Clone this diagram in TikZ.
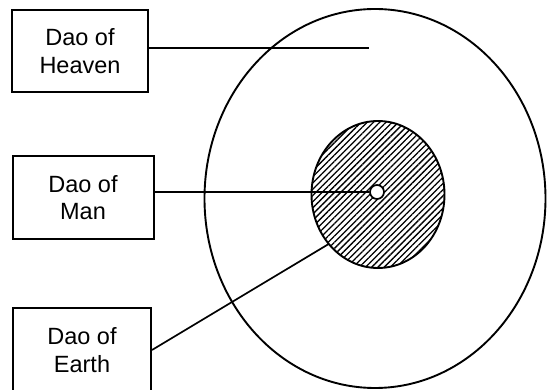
\documentclass[tikz,border=0pt]{standalone}
\usepackage{fontspec}
\setmainfont{Liberation Sans}
\usetikzlibrary{shapes.geometric, patterns.meta}

\begin{document}
\begin{tikzpicture}[x=1pt, y=-1pt,
    box/.style={draw, rectangle, line width=2pt, inner sep=0pt, align=center, font=\fontsize{23.5}{27.7}\selectfont},
    ring/.style={draw, ellipse, line width=1.9pt, inner sep=0pt},
    line/.style={line width=1.7pt}
]
\clip (0,0) rectangle (547,390);

% Circles
\node[ring, minimum width=341pt, minimum height=379pt] (outer) at (375,198.5) {};
\node[ring, minimum width=133pt, minimum height=147pt,
      pattern={Lines[angle=45, distance=4.4pt, line width=1.3pt]}] (inner) at (378,194.5) {};

% Boxes
\node[box, minimum width=136pt, minimum height=82pt] (heaven) at (80,51) {Dao of\\Heaven};
\node[box, minimum width=141pt, minimum height=83pt] (man) at (83,197.5) {Dao of\\Man};
\node[box, minimum width=138pt, minimum height=84pt] (earth) at (82,350) {Dao of\\Earth};

% Lines
\coordinate (sky) at (369,48);
\draw[line] (heaven.east |- sky) -- (sky);
\node[draw, circle, fill=white, line width=1.7pt, minimum size=14pt, inner sep=0pt] (core) at (377,192) {};
\draw[line] (man.east |- core) -- (core.west);
\draw[line] (earth.east) -- (inner.225);

\end{tikzpicture}
\end{document}
